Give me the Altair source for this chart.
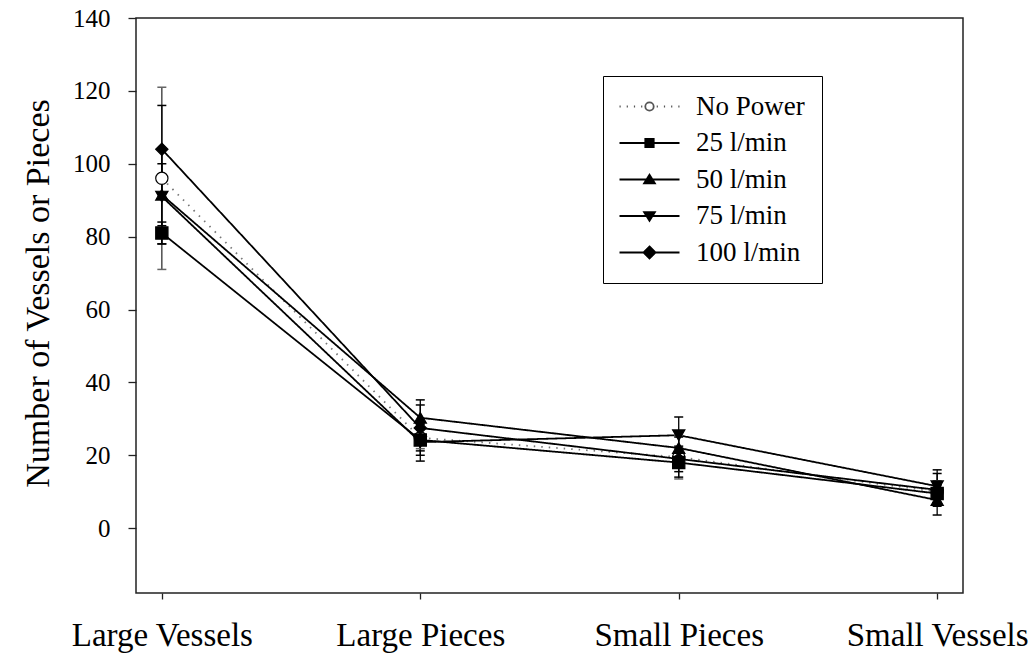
import altair as alt
import pandas as pd

# ---- data -----------------------------------------------------------------
categories = ["Large Vessels", "Large Pieces", "Small Pieces", "Small Vessels"]
series = ["No Power", "25 l/min", "50 l/min", "75 l/min", "100 l/min"]

mean_no_power = [96.0, 24.8, 19.5, 10.0]
mean_25 = [81.0, 24.2, 18.0, 9.5]
mean_50 = [91.5, 30.3, 22.0, 7.7]
mean_75 = [91.0, 23.6, 25.5, 11.5]
mean_100 = [104.0, 27.5, 19.0, 10.5]

err_no_power = [25.0, 3.0, 6.0, 3.0]
err_25 = [3.0, 4.2, 4.0, 2.5]
err_50 = [8.5, 4.9, 3.0, 4.1]
err_75 = [13.0, 5.2, 5.0, 4.5]
err_100 = [12.0, 6.3, 3.5, 4.5]

y_ticks = [0, 20, 40, 60, 80, 100, 120, 140]

means = [mean_no_power, mean_25, mean_50, mean_75, mean_100]
errs = [err_no_power, err_25, err_50, err_75, err_100]

rows = []
for s, m_list, e_list in zip(series, means, errs):
    for i, (cat, m, e) in enumerate(zip(categories, m_list, e_list)):
        rows.append({"category": cat, "idx": i, "series": s,
                     "mean": m, "lo": m - e, "hi": m + e})
df = pd.DataFrame(rows)

# ---- styling --------------------------------------------------------------
FONT = "Liberation Serif"

# legend glyphs: a line segment with the series marker in the middle
legend_paths = [
    "M-5,0h0.2M-3.8,0h0.2M-2.6,0h0.2M-1.4,0h0.2M1.2,0h0.2M2.4,0h0.2M3.6,0h0.2M4.8,0h0.2"
    "M0.7,0A0.7,0.7,0,1,1,-0.7,0A0.7,0.7,0,1,1,0.7,0Z",
    "M-5,0H5M-0.7,-0.7H0.7V0.7H-0.7Z",
    "M-5,0H5M0,-0.8L0.9,0.65H-0.9Z",
    "M-5,0H5M0,0.8L0.9,-0.65H-0.9Z",
    "M-5,0H5M0,-1L1,0L0,1L-1,0Z",
]
marker_shapes = ["circle", "square", "triangle-up", "triangle-down", "diamond"]
marker_sizes = [150, 150, 200, 200, 260]
marker_fills = ["white", "black", "black", "black", "black"]
line_colors = ["#777777", "black", "black", "black", "black"]
bar_colors = ["#333333", "black", "black", "black", "black"]
cap_colors = ["#666666", "black", "black", "black", "black"]
line_dashes = [[1.5, 6], [1, 0], [1, 0], [1, 0], [1, 0]]
legend_strokes = ["#555555", "black", "black", "black", "black"]

x_enc = alt.X(
    "category:N",
    sort=categories,
    scale=alt.Scale(type="point", padding=0.1),
    axis=alt.Axis(
        labelFont=FONT, labelFontSize=33, labelColor="black", labelAngle=0,
        labelPadding=20, labelLimit=400, tickSize=6, tickColor="#222222",
        tickWidth=1.3, domain=False, grid=False, title=None,
    ),
)
y_scale = alt.Scale(domain=[-17.8, 140], nice=False, zero=False)
y_axis = alt.Axis(
    values=y_ticks, labelFont=FONT, labelFontSize=25, labelColor="black",
    labelPadding=18, tickSize=8, tickColor="#222222", tickWidth=1.3,
    domain=False, grid=False,
    title="Number of Vessels or Pieces", titleFont=FONT, titleFontSize=34,
    titleFontWeight="normal", titleColor="black", titleAngle=270,
    titleX=-88, titleY=275, titleAlign="center", titleBaseline="alphabetic",
    titleLimit=600,
)
y_enc = alt.Y("mean:Q", scale=y_scale, axis=y_axis)

base = alt.Chart(df)

lines = base.mark_line(strokeWidth=1.8).encode(
    x=x_enc,
    y=y_enc,
    order=alt.Order("idx:Q"),
    detail="series:N",
    stroke=alt.Stroke("series:N", scale=alt.Scale(domain=series, range=line_colors), legend=None),
    strokeDash=alt.StrokeDash("series:N", scale=alt.Scale(domain=series, range=line_dashes), legend=None),
)

bars = base.mark_rule(strokeWidth=1.3).encode(
    x=x_enc,
    y=alt.Y("lo:Q", scale=y_scale),
    y2="hi:Q",
    stroke=alt.Stroke("series:N", scale=alt.Scale(domain=series, range=bar_colors), legend=None),
)

caps = base.transform_fold(["lo", "hi"], as_=["end", "value"]).mark_tick(
    thickness=1.5, size=9, opacity=1
).encode(
    x=x_enc,
    y=alt.Y("value:Q", scale=y_scale),
    color=alt.Color("series:N", scale=alt.Scale(domain=series, range=cap_colors), legend=None),
)

points = base.mark_point(filled=True, opacity=1, stroke="black", strokeWidth=1.2).encode(
    x=x_enc,
    y=y_enc,
    shape=alt.Shape("series:N", scale=alt.Scale(domain=series, range=marker_shapes), legend=None),
    fill=alt.Fill("series:N", scale=alt.Scale(domain=series, range=marker_fills), legend=None),
    size=alt.Size("series:N", scale=alt.Scale(domain=series, range=marker_sizes), legend=None),
)

legend_def = alt.Legend(
    orient="none", legendX=467, legendY=58, title=None,
    labelFont=FONT, labelFontSize=27, labelColor="black", labelLimit=300,
    padding=17, rowPadding=8.5, symbolOffset=16, labelOffset=33,
    symbolSize=144, symbolStrokeWidth=1.8,
    strokeColor="black", fillColor="white",
)

# legend-only layer: no rows reach the marks, the scales carry the entries
key = base.transform_filter("false").mark_point(filled=True, opacity=1, strokeWidth=1.8).encode(
    x=x_enc,
    y=y_enc,
    shape=alt.Shape("series:N", scale=alt.Scale(domain=series, range=legend_paths), legend=legend_def),
    fill=alt.Fill("series:N", scale=alt.Scale(domain=series, range=marker_fills), legend=legend_def),
    stroke=alt.Stroke("series:N", scale=alt.Scale(domain=series, range=legend_strokes), legend=legend_def),
)

chart = (
    alt.layer(lines, bars, caps, points, key)
    .resolve_scale(shape="independent", fill="independent", stroke="independent",
                   strokeDash="independent", size="independent", color="independent")
    .properties(
        width=827, height=575,
        padding={"left": 136, "top": 18, "right": 69, "bottom": 60},
        autosize=alt.AutoSizeParams(type="none"),
        background="white",
    )
    .configure_view(stroke="#222222", strokeWidth=1.5)
)

chart.save("out.html", embed_options={"renderer": "svg", "actions": False})
